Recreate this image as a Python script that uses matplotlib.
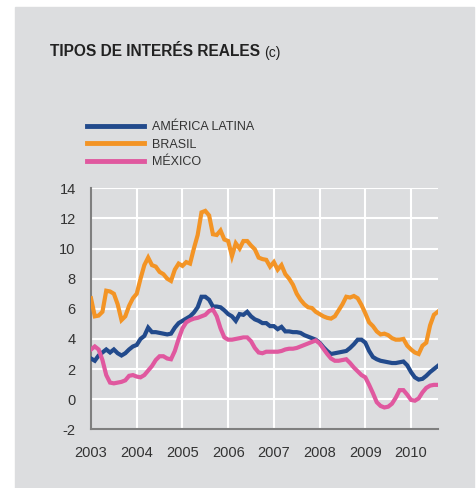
import numpy as np
import matplotlib.pyplot as plt
from matplotlib.patches import Rectangle

# =====================================================
# DATA (monthly, Jan 2003 - Aug 2010)
# =====================================================

start_year = 2003
year_ticks = [2003, 2004, 2005, 2006, 2007, 2008, 2009, 2010]
y_ticks = [-2, 0, 2, 4, 6, 8, 10, 12, 14]

america_latina = [
    2.7, 2.55, 2.9, 3.1, 3.3, 3.1, 3.3, 3.05, 2.9, 3.05, 3.3, 3.5,
    3.6, 4.0, 4.2, 4.75, 4.45, 4.45, 4.4, 4.35, 4.3, 4.35, 4.75, 5.05,
    5.2, 5.35, 5.5, 5.75, 6.1, 6.8, 6.8, 6.6, 6.15, 6.15, 6.1, 5.9,
    5.65, 5.5, 5.2, 5.65, 5.6, 5.8, 5.5, 5.3, 5.2, 5.05, 5.05, 4.85,
    4.85, 4.65, 4.8, 4.5, 4.5, 4.45, 4.45, 4.4, 4.25, 4.15, 4.05, 3.95,
    3.75, 3.45, 3.2, 3.0, 3.05, 3.1, 3.15, 3.2, 3.4, 3.65, 3.95, 3.95,
    3.75, 3.2, 2.8, 2.65, 2.55, 2.5, 2.45, 2.4, 2.4, 2.45, 2.5, 2.25,
    1.8, 1.45, 1.3, 1.35, 1.55, 1.8, 2.0, 2.2,
]

brasil = [
    6.7, 5.5, 5.55, 5.8, 7.2, 7.15, 7.0, 6.3, 5.25, 5.5, 6.2, 6.7,
    7.0, 8.0, 8.9, 9.4, 8.9, 8.8, 8.45, 8.3, 8.0, 7.85, 8.6, 9.0,
    8.85, 9.1, 9.0, 10.0, 10.9, 12.4, 12.5, 12.2, 10.95, 10.9, 11.2, 10.6,
    10.5, 9.5, 10.35, 10.0, 10.5, 10.5, 10.2, 9.95, 9.4, 9.3, 9.25, 8.8,
    9.1, 8.6, 8.9, 8.3, 8.0, 7.6, 7.0, 6.6, 6.3, 6.1, 6.05, 5.8,
    5.65, 5.5, 5.4, 5.35, 5.5, 5.9, 6.3, 6.8, 6.75, 6.85, 6.7, 6.25,
    5.7, 5.1, 4.85, 4.5, 4.3, 4.35, 4.25, 4.05, 3.95, 3.95, 4.0, 3.55,
    3.3, 3.1, 3.0, 3.55, 3.75, 4.9, 5.6, 5.8,
]

mexico = [
    3.3, 3.5, 3.3, 2.6, 1.6, 1.1, 1.05, 1.1, 1.15, 1.25, 1.55, 1.6,
    1.5, 1.45, 1.6, 1.9, 2.2, 2.6, 2.85, 2.85, 2.7, 2.65, 3.2, 4.0,
    4.7, 5.1, 5.25, 5.35, 5.4, 5.5, 5.6, 5.85, 5.95, 5.5, 4.7, 4.1,
    3.95, 3.95, 4.0, 4.05, 4.1, 4.1, 3.85, 3.4, 3.1, 3.05, 3.15, 3.15,
    3.15, 3.15, 3.2, 3.3, 3.35, 3.35, 3.4, 3.5, 3.6, 3.7, 3.8, 3.9,
    3.7, 3.35, 3.0, 2.7, 2.55, 2.55, 2.6, 2.65, 2.4, 2.1, 1.85, 1.6,
    1.45, 0.95, 0.4, -0.2, -0.45, -0.55, -0.5, -0.3, 0.1, 0.6, 0.6, 0.3,
    -0.05, -0.1, 0.05, 0.45, 0.75, 0.9, 0.95, 0.95,
]

labels = ["AMÉRICA LATINA", "BRASIL", "MÉXICO"]
colors = ["#224a8c", "#f39425", "#e0589f"]

x = start_year + np.arange(len(brasil)) / 12

# =====================================================
# FIGURE
# =====================================================

plt.rcParams['font.family'] = ['Liberation Sans', 'DejaVu Sans']
plt.rcParams['axes.unicode_minus'] = False

bg = "#dcdddf"
fig = plt.figure(figsize=(4.77, 4.88), dpi=100)
fig.patches.append(Rectangle((15 / 477, 0), 459 / 477, 481 / 488,
                             transform=fig.transFigure, color=bg, zorder=-10))

ax = fig.add_axes([91 / 477, 1 - 429.3 / 488, (437.7 - 91) / 477, (429.3 - 188.3) / 488])
ax.set_facecolor(bg)

lines = []
for series, lab, col in zip([america_latina, brasil, mexico], labels, colors):
    ln, = ax.plot(x, series, color=col, linewidth=3, label=lab,
                  solid_joinstyle='miter', zorder=3)
    lines.append(ln)

ax.set_xlim(start_year, x[-1])
ax.set_ylim(-2, 14)
ax.set_xticks(year_ticks)
ax.set_xticklabels([str(t) for t in year_ticks])
ax.set_yticks(y_ticks)

ax.grid(True, color='white', linewidth=1.5, zorder=0)
ax.axhline(0, color='#7f7f7f', linewidth=1.2, zorder=1)

for side in ['top', 'right']:
    ax.spines[side].set_visible(False)
for side in ['left', 'bottom']:
    ax.spines[side].set_color('#7f7f7f')
    ax.spines[side].set_linewidth(1.5)

ax.tick_params(axis='both', length=0, labelsize=10.5, colors='#333333')
ax.tick_params(axis='y', pad=11)
ax.tick_params(axis='x', pad=12)

# title
title = fig.text(50 / 477, 1 - 52 / 488, "TIPOS DE INTERÉS REALES", fontsize=11.2,
                 fontweight='bold', color='#222222', va='center', ha='left')
fig.canvas.draw()
bb = title.get_window_extent()
fig.text(bb.x1 / fig.bbox.width + 4 / 477, 1 - 52.5 / 488, "(c)", fontsize=10,
         color='#222222', va='center', ha='left')

# legend
leg = fig.legend(handles=lines, loc='upper left',
                 bbox_to_anchor=(82 / 477, 1 - 116 / 488),
                 frameon=False, fontsize=9, handlelength=4.6,
                 handletextpad=0.6, labelspacing=0.45, borderaxespad=0)
for t in leg.get_texts():
    t.set_color('#333333')
for h in leg.legend_handles:
    h.set_linewidth(3.5)

fig.savefig("out.png", dpi=100)
